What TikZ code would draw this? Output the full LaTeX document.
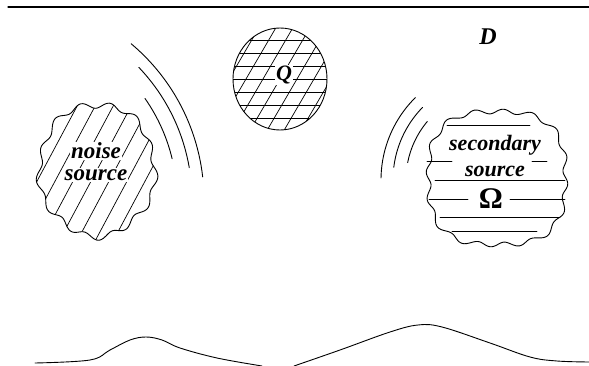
\documentclass[tikz,border=0pt]{standalone}
\usepackage{fontspec}
\setmainfont{Liberation Serif}
\begin{document}
\begin{tikzpicture}[x=1pt,y=-1pt,line cap=round,
  outline/.style={line width=0.9pt},
  hatch/.style={line width=0.7pt},
  wave/.style={line width=0.9pt},
  lbl/.style={fill=white,inner sep=1pt,font=\fontsize{23}{23}\selectfont\bfseries\itshape},
  lblm/.style={fill=white,inner sep=1pt,font=\fontsize{22}{22}\selectfont\bfseries\itshape,align=center}]
\useasboundingbox (0,0) rectangle (589,366);
% top border line
\coordinate (tl) at (8,7);
\coordinate (tr) at (589,7);
\draw[line width=1.3pt] (tl) -- (tr);
% domain label
\node[font=\fontsize{24}{24}\selectfont\bfseries\itshape] (D) at (488,37) {D};

% ---------- region Q (ellipse) ----------
\begin{scope}
  \clip (280,79) ellipse[x radius=47,y radius=51];
  \foreach \k in {-3,...,3}{\draw[hatch] (225,79+13*\k) -- (335,79+13*\k);}
  \foreach \k in {-6,...,6}{\draw[hatch] (280+17*\k-35,139) -- (280+17*\k+35,19);}
\end{scope}
\draw[outline] (280,79) ellipse[x radius=47,y radius=51];
\node[font=\fontsize{22}{22}\selectfont\bfseries\itshape,fill=white,inner sep=1pt] (Q) at (284,75) {Q};

% ---------- noise source ----------
\begin{scope}
  \clip plot[domain=0:360,samples=241,variable=\t]
    ({97+58*cos(\t)*(1+0.045*sin(13*\t+20)+0.02*sin(5*\t))},
     {170+66*sin(\t)*(1+0.045*sin(13*\t+20)+0.02*sin(5*\t))}) -- cycle;
  \foreach \k in {-8,...,8}{\draw[hatch] (97+18*\k-47,258) -- (97+18*\k+47,82);}
\end{scope}
\draw[outline] plot[domain=0:360,samples=241,variable=\t]
    ({97+58*cos(\t)*(1+0.045*sin(13*\t+20)+0.02*sin(5*\t))},
     {170+66*sin(\t)*(1+0.045*sin(13*\t+20)+0.02*sin(5*\t))}) -- cycle;
\node[lbl] (n1) at (96,151) {noise};
\node[lbl] (n2) at (96,175) {source};

% waves from noise source
\draw[wave] plot[domain=6.5:50,samples=60,variable=\t] ({204*cos(\t)},{200-204*sin(\t)});
\draw[wave] plot[domain=9.7:43.7,samples=60,variable=\t] ({192*cos(\t)},{200-192*sin(\t)});
\draw[wave] plot[domain=13.5:35,samples=60,variable=\t] ({177*cos(\t)},{200-177*sin(\t)});

% ---------- secondary source ----------
\draw[hatch] (447,125) -- (530,125);
\draw[hatch] (427,161) -- (452,161);
\draw[hatch] (532,161) -- (547,161);
\draw[hatch] (435,180) -- (565,180);
\draw[hatch] (429,199) -- (468,199);
\draw[hatch] (510,199) -- (565,199);
\draw[hatch] (440,217) -- (560,217);
\draw[hatch] (452,231) -- (537,231);
\draw[outline] plot[domain=0:360,samples=241,variable=\t]
    ({497+72*cos(\t)*(1-0.05*cos(4*\t))*(1+0.035*sin(16*\t+10))},
     {178+70*sin(\t)*(1-0.05*cos(4*\t))*(1+0.035*sin(16*\t+10))}) -- cycle;
\node[lblm] (s1) at (495,145) {secondary};
\node[lblm] (s2) at (495,171) {source};
\node[font=\fontsize{30}{30}\selectfont\bfseries,inner sep=1pt] (om) at (491,199) {Ω};

% waves toward secondary source
\draw[wave] plot[domain=134.7:179,samples=60,variable=\t] ({497+116*cos(\t)},{180-116*sin(\t)});
\draw[wave] plot[domain=135.8:173,samples=60,variable=\t] ({497+104*cos(\t)},{180-104*sin(\t)});
\draw[wave] plot[domain=140:169,samples=60,variable=\t] ({497+91*cos(\t)},{180-91*sin(\t)});

% ---------- bottom boundary ----------
\draw[wave] plot[smooth,tension=0.6] coordinates {(35,363) (90,360) (110,350) (130,340) (146,337) (162,340) (180,348) (217,358) (262,366)};
\draw[wave] plot[smooth,tension=0.6] coordinates {(294,366) (340,350) (390,332) (418,325) (442,327) (490,343) (530,357) (557,361) (589,362)};
\end{tikzpicture}
\end{document}
